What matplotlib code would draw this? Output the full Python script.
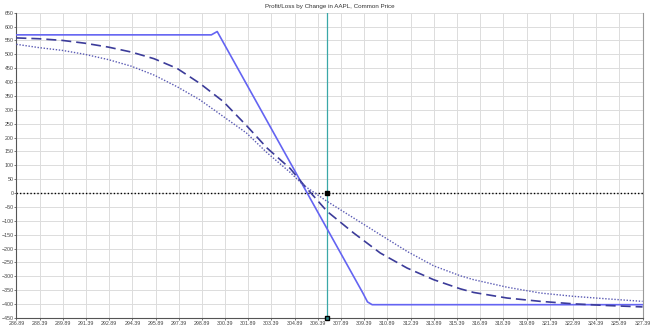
import matplotlib.pyplot as plt
import numpy as np

# x tick prices
x_ticks = [286.89 + 1.5 * i for i in range(28)]

# expiration P/L (solid)
exp_price = [286.89, 299.5, 299.88, 309.3, 309.6, 309.9, 327.39]
exp_pl = [570, 570, 582, -360, -392, -402, -402]

# P/L at an earlier date (dashed)
dash_price = [286.89, 288.36, 289.87, 291.31, 292.83, 294.33, 295.80, 297.29, 298.76,
              300.27, 301.76, 303.11, 304.61, 305.47, 306.99, 308.71, 310.43, 312.16,
              313.88, 315.61, 316.47, 318.63, 320.78, 322.94, 325.10, 327.39]
dash_pl = [559, 556, 550, 540, 526, 508, 484, 449, 395,
           330, 244, 162, 88, 30, -66, -144, -216, -270,
           -312, -345, -358, -378, -390, -399, -405, -410]

# P/L today (dotted)
dot_price = [286.89, 288.36, 289.87, 291.31, 292.83, 294.33, 295.80, 297.29, 298.76,
             300.27, 301.76, 303.11, 304.61, 305.47, 306.99, 308.71, 310.43, 312.16,
             313.88, 315.61, 316.47, 318.63, 320.78, 322.94, 325.10, 327.39]
dot_pl = [536, 524, 514, 500, 481, 457, 425, 383, 336,
          276, 217, 145, 74, 28, -30, -90, -150, -210,
          -262, -298, -312, -339, -360, -372, -381, -390]

current_price = 307.0

fig, ax = plt.subplots(figsize=(6.55, 3.33), dpi=100)
fig.subplots_adjust(left=0.025, right=0.981, top=0.962, bottom=0.045)

ax.plot(exp_price, exp_pl, color='#6464f2', lw=1.2, zorder=3)
ax.plot(dash_price, dash_pl, color='#3c3c9a', lw=1.2, dashes=(6, 3), zorder=3)
ax.plot(dot_price, dot_pl, color='#5a5ab4', lw=1.0, ls=(0, (1, 1.2)), zorder=3)

ax.axhline(0, color='black', lw=1.0, ls=(0, (1, 1.5)), zorder=2)
ax.axvline(current_price, color='#3aa8a8', lw=0.9, zorder=2)
ax.plot([current_price], [0], 's', color='black', ms=2.5, zorder=4)
ax.plot([current_price], [-450], 's', color='#2a8a8a', mec='black', ms=3, clip_on=False, zorder=4)

ax.set_xlim(x_ticks[0], x_ticks[-1])
ax.set_ylim(-450, 650)
ax.set_xticks(x_ticks)
ax.set_xticklabels(['%.2f' % t for t in x_ticks])
ax.set_yticks(np.arange(-450, 651, 50))
ax.grid(True, color='#dcdcdc', lw=0.7)
ax.tick_params(labelsize=3.8, colors='#444444', length=1.2, width=0.5, pad=0.8)
for lab in ax.get_xticklabels() + ax.get_yticklabels():
    lab.set_family('Liberation Sans')
for side in ['left', 'bottom']:
    ax.spines[side].set_color('#555555')
    ax.spines[side].set_linewidth(0.8)
ax.spines['right'].set_color('#999999')
ax.spines['top'].set_visible(False)

ax.set_title('Profit/Loss by Change in AAPL, Common Price', fontsize=4.5,
             color='#333333', pad=3, family='Liberation Sans')

plt.savefig('out.png', dpi=100)
